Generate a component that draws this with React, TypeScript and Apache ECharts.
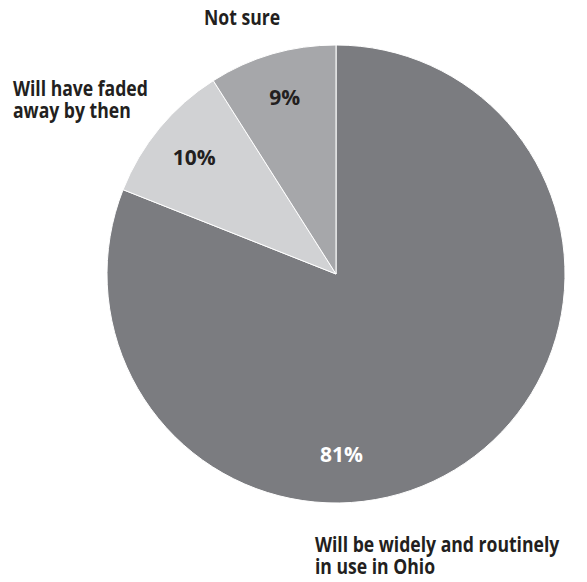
import React, { useEffect, useRef } from "react";
import * as echarts from "echarts";

const categories = ["Will be widely and routinely in use in Ohio", "Will have faded away by then", "Not sure"];
const values = [81, 10, 9];
const sliceColors = ["#7b7c80", "#d1d2d4", "#a6a7aa"];
const labelColors = ["#ffffff", "#231f20", "#231f20"];

const FONT = "'Open Sans', sans-serif";
const SX = 0.8;

export default function App() {
  const ref = useRef<HTMLDivElement>(null);
  useEffect(() => {
    if (!ref.current) return;
    const chart = echarts.init(ref.current, null, { renderer: "svg" });
    const center = [336, 274];
    const r = 229;
    const outerText = (text: string, x: number, y: number) => ({
      type: "text",
      x,
      y,
      scaleX: SX,
      style: { text, font: `bold 22px ${FONT}`, fill: "#231f20", lineHeight: 22, textVerticalAlign: "top" },
    });
    chart.setOption({
      animation: false,
      backgroundColor: "#ffffff",
      series: [
        {
          type: "pie",
          center,
          radius: [0, r],
          startAngle: 90,
          clockwise: true,
          silent: true,
          label: { show: false },
          labelLine: { show: false },
          itemStyle: { borderColor: "#ffffff", borderWidth: 1 },
          data: categories.map((c, i) => ({ name: c, value: values[i], itemStyle: { color: sliceColors[i] } })),
        },
        {
          type: "pie",
          center,
          radius: [133, r],
          startAngle: 90,
          clockwise: true,
          silent: true,
          labelLine: { show: false },
          itemStyle: { color: "rgba(0,0,0,0)" },
          label: {
            show: true,
            position: "inside",
            formatter: "{c}%",
            fontFamily: FONT,
            fontWeight: "bold",
            fontSize: 21,
          },
          data: categories.map((c, i) => ({
            name: c,
            value: values[i],
            label: i === 0 ? { color: labelColors[i], offset: [-98, 28] } : { color: labelColors[i] },
          })),
        },
      ],
      graphic: [
        outerText(categories[2], 204, 6),
        outerText("Will have faded\naway by then", 13, 77),
        outerText("Will be widely and routinely\nin use in Ohio", 315, 533),
      ],
    });
    return () => chart.dispose();
  }, []);
  return <div ref={ref} style={{ position: "fixed", left: 0, top: 0, width: 587, height: 582 }} />;
}
